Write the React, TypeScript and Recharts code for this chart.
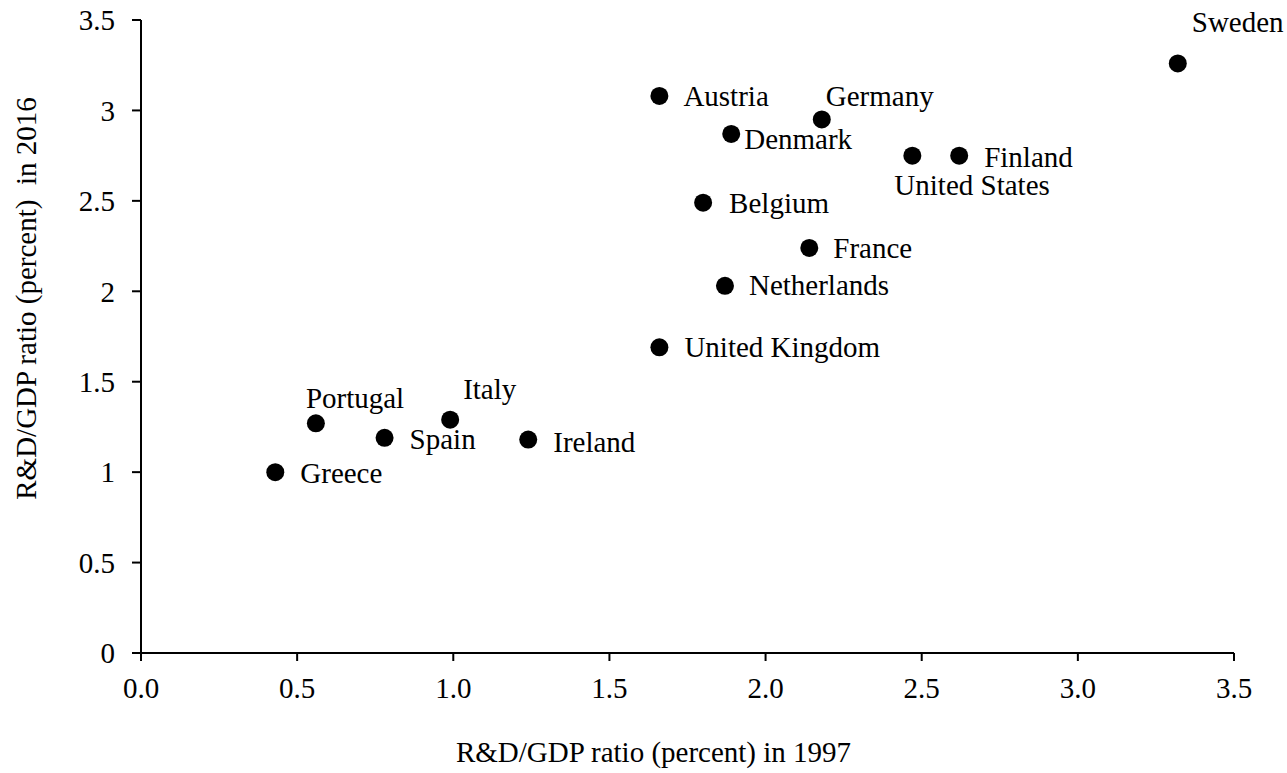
import React from 'react';
import { ScatterChart, Scatter, XAxis, YAxis } from 'recharts';

// R&D/GDP ratio by country
const countries = [
  'Sweden', 'Austria', 'Germany', 'Denmark', 'United States', 'Finland', 'Belgium', 'France',
  'Netherlands', 'United Kingdom', 'Italy', 'Portugal', 'Spain', 'Ireland', 'Greece',
];
const ratio1997 = [3.32, 1.66, 2.18, 1.89, 2.47, 2.62, 1.80, 2.14, 1.87, 1.66, 0.99, 0.56, 0.78, 1.24, 0.43];
const ratio2016 = [3.26, 3.08, 2.95, 2.87, 2.75, 2.75, 2.49, 2.24, 2.03, 1.69, 1.29, 1.27, 1.19, 1.18, 1.00];

const xTicks = [0, 0.5, 1, 1.5, 2, 2.5, 3, 3.5];
const yTicks = [0, 0.5, 1, 1.5, 2, 2.5, 3, 3.5];

// label placement relative to the dot: [dx, baseline dy]
const labelOffset: Record<string, [number, number]> = {
  Sweden: [14, -31],
  Austria: [24, 10],
  Germany: [4, -13],
  Denmark: [13, 15],
  'United States': [-18, 39],
  Finland: [25, 11],
  Belgium: [26, 10],
  France: [24, 10],
  Netherlands: [24, 9],
  'United Kingdom': [25, 10],
  Italy: [13, -21],
  Portugal: [-10, -15],
  Spain: [25, 11],
  Ireland: [25, 12],
  Greece: [25, 11],
};

const data = countries.map((name, i) => ({ name, x: ratio1997[i], y: ratio2016[i] }));

const FONT = '"Liberation Serif", "Times New Roman", serif';
const FS = 29;

const DotWithLabel = (props: any) => {
  const { cx, cy, payload } = props;
  const [dx, dy] = labelOffset[payload.name] || [20, 10];
  return (
    <g>
      <circle cx={cx} cy={cy} r={9} fill="#000" />
      <text x={cx + dx} y={cy + dy} fontSize={FS} fontFamily={FONT} fill="#000">
        {payload.name}
      </text>
    </g>
  );
};

const App = () => {
  return (
    <div style={{ position: 'absolute', left: 0, top: 0 }}>
      <ScatterChart width={1287} height={773} margin={{ top: 20, right: 53, bottom: 0, left: 0 }}>
        <XAxis
          type="number"
          dataKey="x"
          domain={[0, 3.5]}
          ticks={xTicks}
          tickFormatter={(v: number) => v.toFixed(1)}
          height={120}
          tickSize={8}
          tickMargin={16}
          axisLine={{ stroke: '#000', strokeWidth: 2 }}
          tickLine={{ stroke: '#000', strokeWidth: 2 }}
          tick={{ fill: '#000', fontSize: FS, fontFamily: FONT }}
          label={{
            content: ({ viewBox }: any) => (
              <text
                x={viewBox.x + viewBox.width / 2 - 34}
                y={762}
                textAnchor="middle"
                fontSize={FS}
                fontFamily={FONT}
                fill="#000"
              >
                R&amp;D/GDP ratio (percent) in 1997
              </text>
            ),
          }}
        />
        <YAxis
          type="number"
          dataKey="y"
          domain={[0, 3.5]}
          ticks={yTicks}
          width={141}
          tickSize={9}
          tickMargin={17}
          axisLine={{ stroke: '#000', strokeWidth: 2 }}
          tickLine={{ stroke: '#000', strokeWidth: 2 }}
          tick={{ fill: '#000', fontSize: FS, fontFamily: FONT }}
          label={{
            content: ({ viewBox }: any) => {
              const x = 36;
              const y = viewBox.y + viewBox.height / 2 - 38;
              return (
                <text
                  x={x}
                  y={y}
                  transform={`rotate(-90, ${x}, ${y})`}
                  textAnchor="middle"
                  fontSize={FS}
                  fontFamily={FONT}
                  fill="#000"
                  style={{ whiteSpace: 'pre' }}
                >
                  {'R&D/GDP ratio (percent)  in 2016'}
                </text>
              );
            },
          }}
        />
        <Scatter data={data} shape={DotWithLabel} isAnimationActive={false} />
      </ScatterChart>
    </div>
  );
};

export default App;
